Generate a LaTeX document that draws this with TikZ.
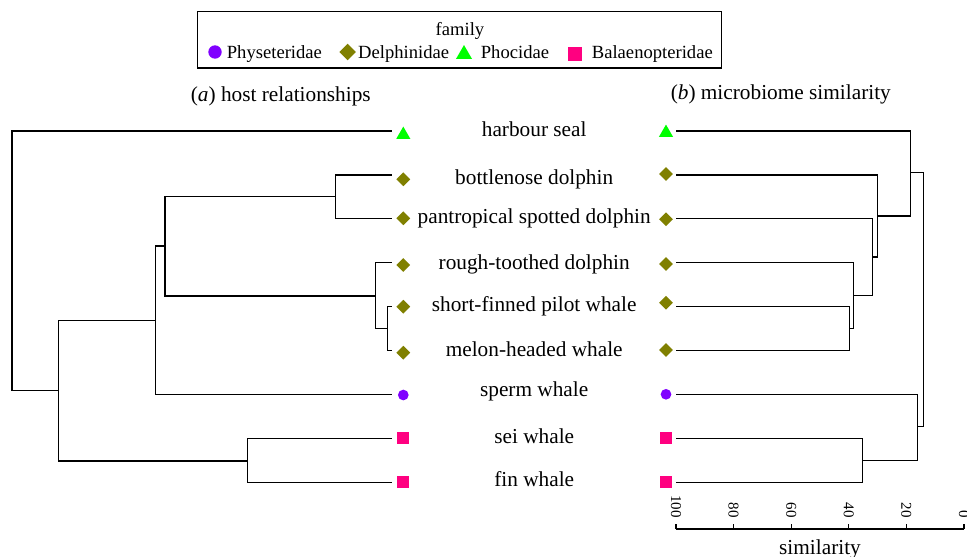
\documentclass[tikz,border=0pt]{standalone}
\usepackage{fontspec}
\setmainfont{Liberation Serif}
\usetikzlibrary{shapes.geometric}
\definecolor{physc}{HTML}{8000FF}
\definecolor{delc}{HTML}{808000}
\definecolor{phoc}{HTML}{00FF00}
\definecolor{balc}{HTML}{FF0080}
\begin{document}
\begin{tikzpicture}[x=1pt,y=-1pt,
  tree/.style={line width=1.2pt, black, line join=miter},
  lbl/.style={font=\fontsize{21.3}{24}\selectfont, inner sep=0, anchor=base},
  leg/.style={font=\fontsize{18.6}{21}\selectfont, inner sep=0, anchor=base west},
  circsym/.style={circle, fill=physc, inner sep=0, minimum size=10.7},
  diamsym/.style={diamond, fill=delc, inner sep=0, minimum size=14},
  trisym/.style={regular polygon, regular polygon sides=3, fill=phoc, inner sep=0, minimum size=16.2},
  sqsym/.style={rectangle, fill=balc, inner sep=0, minimum size=12},
  ticklbl/.style={font=\fontsize{15}{17}\selectfont, inner sep=0, rotate=-90, anchor=east}
]
\useasboundingbox (0,0) rectangle (967,557);

% legend
\node[draw, line width=1.3pt, minimum width=524.4, minimum height=56.5, inner sep=0] (legend) at (459.5,39.75) {};
\node[leg, anchor=base] (legtitle) at (460,35) {family};
\node[circle, fill=physc, inner sep=0, minimum size=13.4] (lgc) at (215,52) {};
\node[leg] (lgct) at (226.7,58.5) {Physeteridae};
\node[diamond, fill=delc, inner sep=0, minimum size=16.7] (lgd) at (347.7,52) {};
\node[leg] (lgdt) at (358,58.5) {Delphinidae};
\node[regular polygon, regular polygon sides=3, fill=phoc, inner sep=0, minimum size=18.5] (lgt) at (464,54.3) {};
\node[leg] (lgtt) at (480.7,58.5) {Phocidae};
\node[rectangle, fill=balc, inner sep=0, minimum size=14] (lgs) at (575,53.7) {};
\node[leg] (lgst) at (591.7,58.5) {Balaenopteridae};

% headings
\node[lbl] (ha) at (280.8,101) {(\textit{a}) host relationships};
\node[lbl] (hb) at (780.8,99) {(\textit{b}) microbiome similarity};

% leaf labels
\node[lbl] (t1) at (534.2,136.7) {harbour seal};
\node[lbl] (t2) at (534.2,184) {bottlenose dolphin};
\node[lbl] (t3) at (534.2,223.3) {pantropical spotted dolphin};
\node[lbl] (t4) at (534.2,269.3) {rough-toothed dolphin};
\node[lbl] (t5) at (534.2,311) {short-finned pilot whale};
\node[lbl] (t6) at (534.2,356) {melon-headed whale};
\node[lbl] (t7) at (534.2,396.7) {sperm whale};
\node[lbl] (t8) at (534.2,443.3) {sei whale};
\node[lbl] (t9) at (534.2,486.7) {fin whale};

% symbols left
\node[trisym] (s1) at (403.3,134.7) {};
\node[diamsym] (s2) at (403.3,179.3) {};
\node[diamsym] (s3) at (403.3,218.3) {};
\node[diamsym] (s4) at (403.3,265) {};
\node[diamsym] (s5) at (403.3,306.7) {};
\node[diamsym] (s6) at (403.3,352.7) {};
\node[circsym] (s7) at (403.3,395) {};
\node[sqsym] (s8) at (403.3,438.3) {};
\node[sqsym] (s9) at (403.3,481.7) {};

% symbols right
\node[trisym] (r1) at (666,132.7) {};
\node[diamsym] (r2) at (666,174) {};
\node[diamsym] (r3) at (666,219.3) {};
\node[diamsym] (r4) at (666,264) {};
\node[diamsym] (r5) at (666,302.7) {};
\node[diamsym] (r6) at (666,350) {};
\node[circsym] (r7) at (666,394.3) {};
\node[sqsym] (r8) at (666,438.3) {};
\node[sqsym] (r9) at (666,481.7) {};

% leaf line ends
\coordinate (a1) at (391.7,131);   \coordinate (b1) at (676,131);
\coordinate (a2) at (391.7,175);   \coordinate (b2) at (676,175);
\coordinate (a3) at (391.7,218.5); \coordinate (b3) at (676,218.5);
\coordinate (a4) at (391.7,262.7); \coordinate (b4) at (676,262.7);
\coordinate (a5) at (391.7,306.7); \coordinate (b5) at (676,306.7);
\coordinate (a6) at (391.7,350.5); \coordinate (b6) at (676,350.5);
\coordinate (a7) at (391.7,394.7); \coordinate (b7) at (676,394.7);
\coordinate (a8) at (391.7,438.7); \coordinate (b8) at (676,438.7);
\coordinate (a9) at (391.7,482.5); \coordinate (b9) at (676,482.5);

% left tree
\coordinate (aBP) at (335.7,196.7);
\draw[tree] (a2) -| (aBP) |- (a3);
\coordinate (aPM) at (387.3,328.7);
\draw[tree] (a5) -| (aPM) |- (a6);
\coordinate (aRPM) at (375.7,296);
\draw[tree] (a4) -| (aRPM) |- (aPM);
\coordinate (aD) at (165,246);
\draw[tree] (aBP) -| (aD) |- (aRPM);
\coordinate (aO) at (155.7,320.3);
\draw[tree] (aD) -| (aO) |- (a7);
\coordinate (aB) at (247.7,461);
\draw[tree] (a8) -| (aB) |- (a9);
\coordinate (aC) at (58.3,390.7);
\draw[tree] (aO) -| (aC) |- (aB);
\coordinate (aR) at (12,260);
\draw[tree] (a1) -| (aR) |- (aC);

% right tree
\coordinate (bPM) at (849.7,328.7);
\draw[tree] (b5) -| (bPM) |- (b6);
\coordinate (bRPM) at (853.7,295.7);
\draw[tree] (b4) -| (bRPM) |- (bPM);
\coordinate (bP) at (872.7,257);
\draw[tree] (b3) -| (bP) |- (bRPM);
\coordinate (bB) at (877.7,216);
\draw[tree] (b2) -| (bB) |- (bP);
\coordinate (bS) at (910.3,172.7);
\draw[tree] (b1) -| (bS) |- (bB);
\coordinate (bSW) at (862.7,460.3);
\draw[tree] (b8) -| (bSW) |- (b9);
\coordinate (bSp) at (917.7,426.7);
\draw[tree] (b7) -| (bSp) |- (bSW);
\coordinate (bR) at (923.7,300);
\draw[tree] (bS) -| (bR) |- (bSp);

% axis
\coordinate (ax0) at (676,529);
\coordinate (ax1) at (964,529);
\draw[tree] (ax0) -- (ax1);
\foreach \v in {0,20,40,60,80,100} {
  \draw[tree] ({964-2.88*\v},529) -- ({964-2.88*\v},524);
  \node[ticklbl] (tk\v) at ({964-2.88*\v},518) {\v};
}
\node[lbl] (axlbl) at (820,554) {similarity};
\end{tikzpicture}
\end{document}
